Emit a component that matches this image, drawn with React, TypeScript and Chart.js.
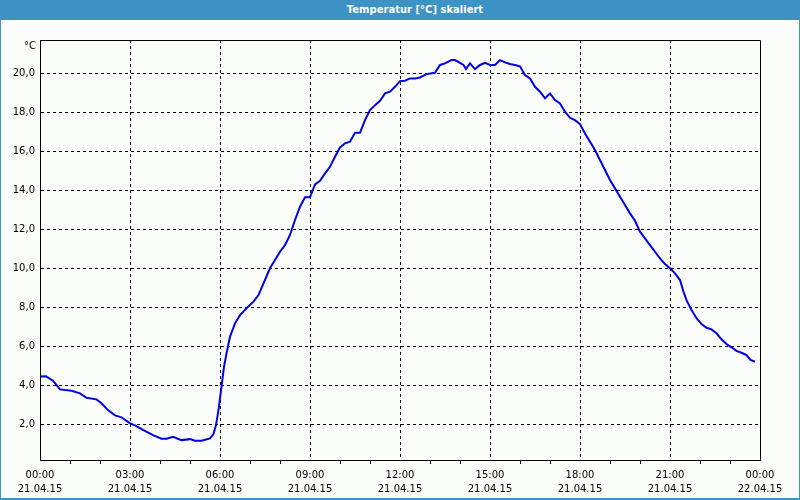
import React, { useEffect, useRef } from "react";
import { Chart, registerables } from "chart.js";

Chart.register(...registerables);

const chartTitle = "Temperatur [°C] skaliert";
const unitLabel = "°C";

// time in minutes since 21.04.15 00:00
const timesMin = [
  0, 12, 26, 40, 63, 80, 93, 113, 123, 136, 150, 163, 180, 190, 206, 226, 243, 253, 266, 283,
  300, 310, 323, 340, 347, 352, 357, 363, 368, 373, 380, 390, 400, 413, 427, 437, 447, 460, 470, 480,
  490, 500, 510, 520, 530, 540, 550, 560, 570, 580, 590, 600, 610, 620, 630, 640, 650, 660, 670, 680,
  690, 700, 710, 720, 730, 740, 750, 760, 773, 790, 800, 810, 823, 830, 840, 847, 852, 860, 870, 880,
  890, 900, 910, 920, 930, 940, 950, 960, 970, 980, 990, 1000, 1010, 1020, 1030, 1040, 1050, 1060, 1070, 1080,
  1090, 1100, 1110, 1120, 1130, 1140, 1150, 1160, 1170, 1180, 1190, 1200, 1210, 1220, 1230, 1240, 1250, 1260, 1270, 1280,
  1287, 1293, 1303, 1313, 1323, 1333, 1343, 1353, 1363, 1373, 1383, 1393, 1403, 1413, 1421, 1430,
];

const tempsC = [
  4.45, 4.46, 4.24, 3.79, 3.72, 3.59, 3.36, 3.28, 3.08, 2.73, 2.46, 2.36, 2.05, 1.95, 1.71, 1.45, 1.26, 1.26, 1.36, 1.19,
  1.24, 1.16, 1.16, 1.28, 1.5, 1.96, 2.73, 3.93, 4.95, 5.64, 6.49, 7.18, 7.6, 7.95, 8.29, 8.63, 9.23, 10.0, 10.43, 10.85,
  11.19, 11.71, 12.48, 13.16, 13.64, 13.64, 14.3, 14.49, 14.87, 15.21, 15.72, 16.2, 16.41, 16.49, 16.95, 16.95, 17.6, 18.12, 18.37, 18.59,
  18.97, 19.06, 19.31, 19.6, 19.62, 19.74, 19.74, 19.79, 19.96, 20.03, 20.43, 20.51, 20.68, 20.68, 20.54, 20.43, 20.22, 20.51, 20.22, 20.43,
  20.54, 20.43, 20.43, 20.68, 20.56, 20.48, 20.43, 20.36, 19.91, 19.74, 19.31, 19.06, 18.72, 18.97, 18.63, 18.46, 18.03, 17.72, 17.6, 17.4,
  16.92, 16.49, 16.07, 15.55, 15.04, 14.53, 14.1, 13.67, 13.25, 12.82, 12.44, 11.88, 11.54, 11.19, 10.85, 10.51, 10.22, 10.0, 9.74, 9.4,
  8.8, 8.37, 7.86, 7.44, 7.14, 6.95, 6.87, 6.67, 6.36, 6.12, 5.95, 5.77, 5.67, 5.55, 5.3, 5.21,
];

const xMinorTickMinutes = [
  0, 60, 120, 180, 240, 300, 360, 420, 480, 540, 600, 660, 720, 780, 840, 900, 960, 1020, 1080, 1140, 1200, 1260, 1320, 1380, 1440,
];
const xLabelMinutes = [0, 180, 360, 540, 720, 900, 1080, 1260, 1440];
const xLabelTimes = ["00:00", "03:00", "06:00", "09:00", "12:00", "15:00", "18:00", "21:00", "00:00"];
const xLabelDates = ["21.04.15", "21.04.15", "21.04.15", "21.04.15", "21.04.15", "21.04.15", "21.04.15", "21.04.15", "22.04.15"];

const yTickValues = [2, 4, 6, 8, 10, 12, 14, 16, 18, 20];
const yTickLabels = ["2,0", "4,0", "6,0", "8,0", "10,0", "12,0", "14,0", "16,0", "18,0", "20,0"];

const Y_MIN = 0.17;
const Y_MAX = 21.71;

const FONT = "'DejaVu Sans', Verdana, sans-serif";

export default function App() {
  const canvasRef = useRef<HTMLCanvasElement | null>(null);

  useEffect(() => {
    document.body.style.margin = "0";
    const canvas = canvasRef.current;
    if (!canvas) return;

    const framePlugin = {
      id: "frame",
      afterDraw(chart: any) {
        const { ctx, chartArea } = chart;
        const l = Math.round(chartArea.left) + 0.5;
        const t = Math.round(chartArea.top) + 0.5;
        const r = Math.round(chartArea.right) + 0.5;
        const b = Math.round(chartArea.bottom) + 0.5;
        ctx.save();
        ctx.strokeStyle = "#000";
        ctx.lineWidth = 1;
        ctx.beginPath();
        ctx.moveTo(l, b);
        ctx.lineTo(l, t);
        ctx.lineTo(r, t);
        ctx.lineTo(r, b);
        ctx.lineTo(l, b);
        ctx.stroke();
        ctx.fillStyle = "#000";
        ctx.font = `10px ${FONT}`;
        ctx.textAlign = "right";
        ctx.textBaseline = "middle";
        ctx.fillText(unitLabel, chartArea.left - 4, chartArea.top + 6);
        ctx.restore();
      },
    };

    const chart = new Chart(canvas, {
      type: "line",
      data: {
        datasets: [
          {
            data: timesMin.map((t, i) => ({ x: t, y: tempsC[i] })),
            borderColor: "#0000E6",
            borderWidth: 2,
            pointRadius: 0,
            tension: 0,
            fill: false,
          },
        ],
      },
      options: {
        responsive: false,
        animation: false,
        events: [],
        layout: { padding: { top: 40, right: 40, left: 0, bottom: 0 } },
        plugins: {
          legend: { display: false },
          title: { display: false },
          tooltip: { enabled: false },
        },
        scales: {
          x: {
            type: "linear",
            min: 0,
            max: 1440,
            afterFit(scale: any) {
              scale.height = 40;
            },
            afterBuildTicks(scale: any) {
              scale.ticks = xMinorTickMinutes.map((v) => ({ value: v }));
            },
            ticks: {
              autoSkip: false,
              maxRotation: 0,
              minRotation: 0,
              padding: 4,
              color: "#000",
              font: { family: FONT, size: 10, lineHeight: 1.45 },
              callback(value: any) {
                const idx = xLabelMinutes.indexOf(Number(value));
                return idx >= 0 ? [xLabelTimes[idx], xLabelDates[idx]] : "";
              },
            },
            grid: {
              color: (ctx: any) => {
                const v = ctx.tick ? ctx.tick.value : -1;
                return v > 0 && v < 1440 && v % 180 === 0 ? "#000" : "rgba(0,0,0,0)";
              },
              tickColor: (ctx: any) => {
                const v = ctx.tick ? ctx.tick.value : -1;
                return v % 180 === 0 ? "rgba(0,0,0,0)" : "#000";
              },
              lineWidth: 1,
              tickLength: 4,
              drawTicks: true,
            },
            border: { display: true, color: "#000", width: 1, dash: [3, 3] },
          },
          y: {
            type: "linear",
            min: Y_MIN,
            max: Y_MAX,
            afterFit(scale: any) {
              scale.width = 40;
            },
            afterBuildTicks(scale: any) {
              scale.ticks = yTickValues.map((v) => ({ value: v }));
            },
            ticks: {
              padding: 5,
              color: "#000",
              font: { family: FONT, size: 10 },
              callback(value: any) {
                const idx = yTickValues.indexOf(Number(value));
                return idx >= 0 ? yTickLabels[idx] : "";
              },
            },
            grid: {
              color: "#000",
              lineWidth: 1,
              drawTicks: false,
            },
            border: { display: true, color: "#000", width: 1, dash: [3, 3] },
          },
        },
      },
      plugins: [framePlugin],
    } as any);

    return () => {
      chart.destroy();
    };
  }, []);

  return (
    <div
      style={{
        position: "fixed",
        left: 0,
        top: 0,
        width: 800,
        height: 500,
        background: "#FBFDFB",
        overflow: "hidden",
      }}
    >
      <div
        style={{
          position: "absolute",
          left: 0,
          top: 0,
          width: 800,
          height: 20,
          background: "#3D93C4",
          color: "#fff",
          fontFamily: FONT,
          fontWeight: "bold",
          fontSize: 10,
          lineHeight: "20px",
          textAlign: "center",
          paddingLeft: 30,
          boxSizing: "border-box",
        }}
      >
        {chartTitle}
      </div>
      <div style={{ position: "absolute", left: 0, top: 20, width: 1, height: 480, background: "#3D93C4" }} />
      <div style={{ position: "absolute", right: 0, top: 20, width: 1, height: 480, background: "#3D93C4" }} />
      <div style={{ position: "absolute", left: 0, bottom: 0, width: 800, height: 2, background: "#3D93C4" }} />
      <canvas ref={canvasRef} width={800} height={500} style={{ position: "absolute", left: 0, top: 0 }} />
    </div>
  );
}
